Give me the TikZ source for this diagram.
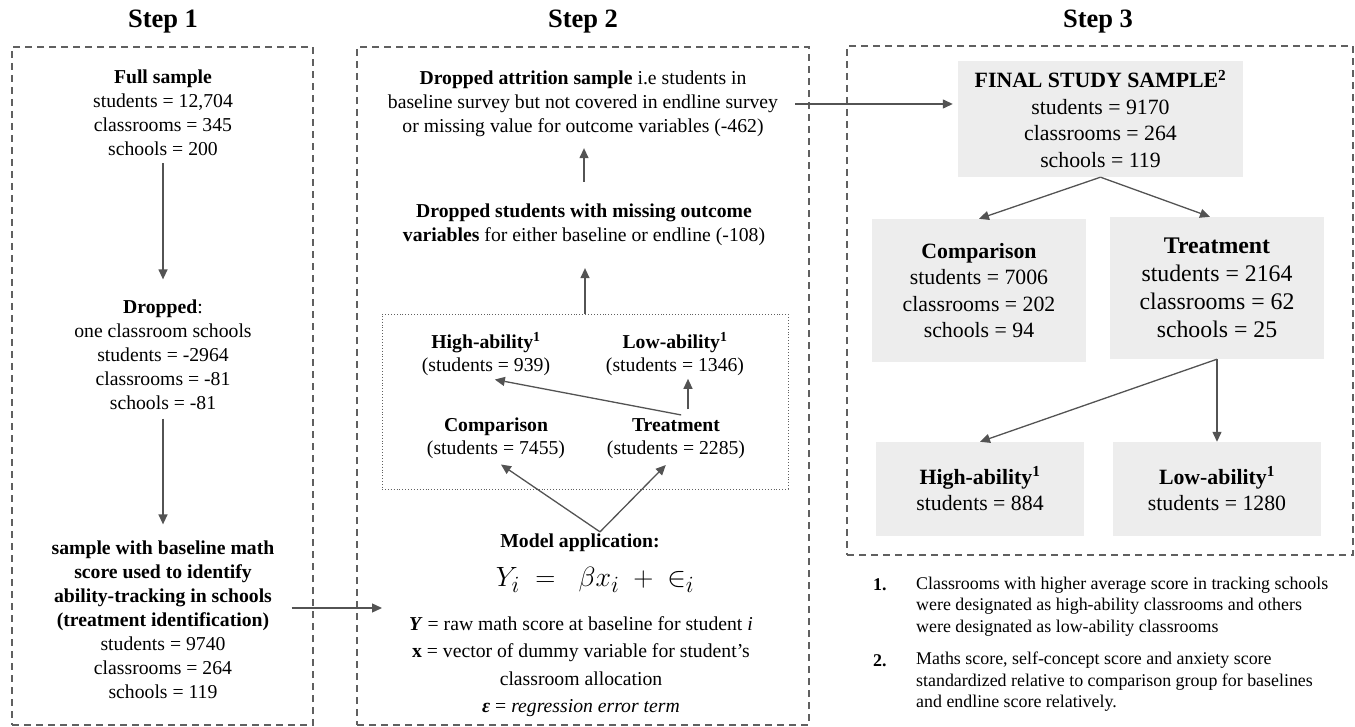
\documentclass[tikz,border=0pt]{standalone}
\usepackage{fontspec}
\setmainfont{Liberation Serif}
\usetikzlibrary{positioning,arrows.meta,calc}

\begin{document}
\begin{tikzpicture}[
    x=1pt, y=-1pt,
    txt/.style={align=center, inner sep=2pt, font=\fontsize{19.7}{24}\selectfont},
    steptitle/.style={inner sep=0pt, font=\fontsize{26.5}{30}\selectfont\bfseries},
    stage/.style={draw=gray!75!black, dash pattern=on 7pt off 5pt, line width=1.1pt, inner sep=0pt},
    grpbox/.style={draw=gray!75!black, dotted, line width=0.9pt, inner sep=0pt},
    sbox/.style={fill=gray!14, align=center, inner sep=0pt, font=\fontsize{21.8}{26.5}\selectfont},
    arr/.style={-{Triangle[length=10pt,width=9pt]}, line width=1.3pt, draw=gray!65!black},
    note/.style={align=left, inner sep=0pt, font=\fontsize{17.9}{21.5}\selectfont},
]
\useasboundingbox (0,0) rectangle (1355,727);

% Stage frames and titles
\node[steptitle] (t1) at (163,22) {Step 1};
\node[steptitle] (t2) at (583,22) {Step 2};
\node[steptitle] (t3) at (1098,22) {Step 3};
\node[stage, minimum width=301pt, minimum height=678pt] (s1) at (162.5,386) {};
\node[stage, minimum width=452pt, minimum height=678pt] (s2) at (583,386) {};
\node[stage, minimum width=506pt, minimum height=509pt] (s3) at (1100,300.5) {};

% Step 1
\node[txt] (full) at (163,113) {\textbf{Full sample}\\students = 12,704\\classrooms = 345\\schools = 200};
\node[txt] (dropped) at (163,354.5) {\textbf{Dropped}:\\one classroom schools\\students = -2964\\classrooms = -81\\schools = -81};
\node[txt] (base) at (163,619.5) {\textbf{sample with baseline math}\\\textbf{score used to identify}\\\textbf{ability-tracking in schools}\\\textbf{(treatment identification)}\\students = 9740\\classrooms = 264\\schools = 119};

\draw[arr, shorten <=5pt, shorten >=18pt] (full) -- (dropped);
\draw[arr, shorten <=7pt, shorten >=14pt] (dropped) -- (base);

% Step 2
\node[txt] (attr) at (583,104) {\textbf{Dropped attrition sample} i.e students in\\baseline survey but not covered in endline survey\\or missing value for outcome variables (-462)};
\node[txt] (miss) at (584,225) {\textbf{Dropped students with missing outcome}\\\textbf{variables} for either baseline or endline (-108)};
\node[grpbox, minimum width=406pt, minimum height=175pt] (grp) at (585,401.5) {};
\node[txt, font=\fontsize{19.7}{22.5}\selectfont] (high) at (486,354) {\textbf{High-ability}\textsuperscript{\textbf{1}}\\(students = 939)};
\node[txt, font=\fontsize{19.7}{22.5}\selectfont] (low) at (675,354) {\textbf{Low-ability}\textsuperscript{\textbf{1}}\\(students = 1346)};
\node[txt, font=\fontsize{19.7}{23}\selectfont] (comp) at (496,438.5) {\textbf{Comparison}\\(students = 7455)};
\node[txt, font=\fontsize{19.7}{23}\selectfont] (treat) at (676,438.5) {\textbf{Treatment}\\(students = 2285)};
\node[txt] (model) at (580,543) {\textbf{Model application:}};
\node[inner sep=0pt] (eqn) at (595,580) {\scalebox{1.12}{\fontsize{24.88}{30}\selectfont $Y_i \;=\;\; \beta x_i \;+\; {\in}_i$}};
\node[txt, font=\fontsize{19.7}{27.5}\selectfont] (defs) at (581,666.5) {\textbf{\textit{Y}} = raw math score at baseline for student \textit{i}\\\textbf{x} = vector of dummy variable for student’s\\classroom allocation\\\textbf{\textit{ε}} = \textit{regression error term}};
\coordinate (modelin) at (382,608);

\draw[arr, shorten >=20pt] (grp.north) -- (grp.north |- miss.south);
\draw[arr, shorten <=20pt, shorten >=9pt] (miss.north) -- (miss.north |- attr.south);
\draw[arr, shorten <=7pt, shorten >=9pt] ([xshift=12pt]treat.north) -- (high.south);
\draw[arr, shorten <=7pt, shorten >=1pt] ([xshift=12pt]treat.north) -- ([xshift=13pt]low.south);
\draw[arr, shorten >=6pt] ([xshift=20pt]model.north) -- (comp.south);
\draw[arr, shorten >=6pt] ([xshift=20pt]model.north) -- ([xshift=-6pt]treat.south);
\draw[arr, shorten <=15pt] (base.east |- modelin) -- (modelin);

% Step 3
\node[sbox, minimum width=285pt, minimum height=116pt] (final) at (1100.5,119) {\textbf{FINAL STUDY SAMPLE}\textsuperscript{\textbf{2}}\\students = 9170\\classrooms = 264\\schools = 119};
\node[sbox, minimum width=214pt, minimum height=143pt] (comp3) at (979,290.5) {\textbf{Comparison}\\students = 7006\\classrooms = 202\\schools = 94};
\node[sbox, minimum width=214pt, minimum height=142pt, font=\fontsize{23.8}{28}\selectfont] (treat3) at (1217,288) {\textbf{Treatment}\\students = 2164\\classrooms = 62\\schools = 25};
\node[sbox, minimum width=208pt, minimum height=94pt] (high3) at (980,489) {\textbf{High-ability}\textsuperscript{\textbf{1}}\\students = 884};
\node[sbox, minimum width=208pt, minimum height=94pt] (low3) at (1217,489) {\textbf{Low-ability}\textsuperscript{\textbf{1}}\\students = 1280};

\draw[arr, shorten <=15pt, shorten >=5pt] (attr.east) -- (attr.east -| final.west);
\draw[arr] (final.south) -- (comp3.north);
\draw[arr] (final.south) -- ([xshift=-7pt]treat3.north);
\draw[arr] (treat3.south) -- (high3.north);
\draw[arr] (treat3.south) -- (low3.north);

% Notes
\node[note, anchor=west] (n1) at (873,585) {\textbf{1.}};
\node[note, anchor=west] (note1) at (916,606.5) {Classrooms with higher average score in tracking schools\\were designated as high-ability classrooms and others\\were designated as low-ability classrooms};
\node[note, anchor=west] (n2) at (873,661) {\textbf{2.}};
\node[note, anchor=west] (note2) at (916,682) {Maths score, self-concept score and anxiety score\\standardized relative to comparison group for baselines\\and endline score relatively.};

\end{tikzpicture}
\end{document}
